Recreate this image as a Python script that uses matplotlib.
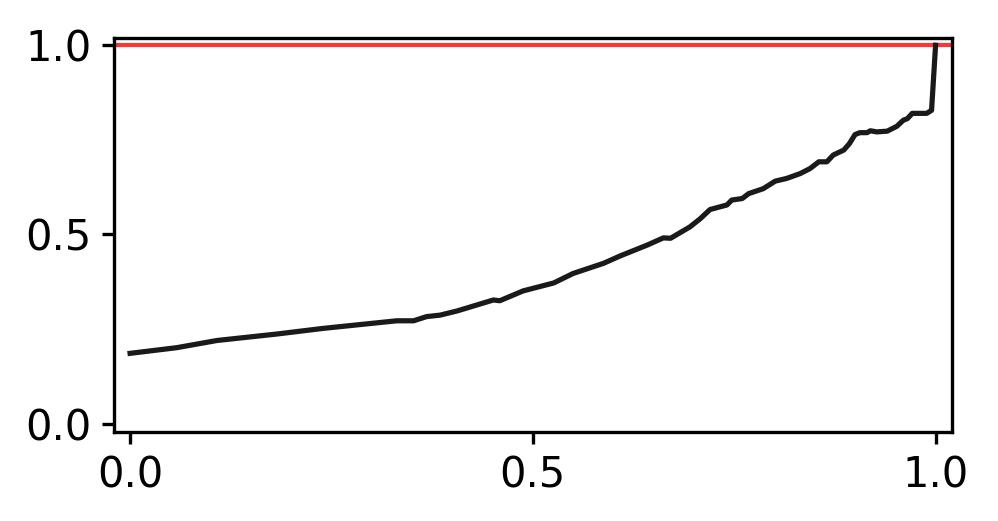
import numpy as np
import matplotlib
matplotlib.use('Agg')
import matplotlib.pyplot as plt

# curve
x_vals = [0.0, 0.058, 0.108, 0.182, 0.240, 0.290, 0.331, 0.352, 0.368, 0.385,
          0.406, 0.451, 0.459, 0.488, 0.526, 0.550, 0.588, 0.608, 0.642, 0.662,
          0.671, 0.695, 0.708, 0.720, 0.741, 0.747, 0.760, 0.768, 0.786, 0.801,
          0.815, 0.832, 0.844, 0.855, 0.865, 0.873, 0.886, 0.893, 0.900, 0.906,
          0.915, 0.919, 0.927, 0.940, 0.952, 0.960, 0.965, 0.971, 0.989, 0.995,
          1.0]
y_vals = [0.186, 0.201, 0.220, 0.237, 0.252, 0.263, 0.272, 0.272, 0.283, 0.287,
          0.298, 0.327, 0.325, 0.351, 0.372, 0.397, 0.424, 0.443, 0.472, 0.491,
          0.490, 0.520, 0.542, 0.566, 0.578, 0.591, 0.595, 0.608, 0.621, 0.641,
          0.648, 0.661, 0.674, 0.692, 0.692, 0.710, 0.723, 0.740, 0.764, 0.769,
          0.769, 0.774, 0.771, 0.773, 0.786, 0.802, 0.806, 0.820, 0.820, 0.828,
          1.0]
ref_level = 1.0

ticks = [0.0, 0.5, 1.0]

fig = plt.figure(figsize=(998 / 300, 521 / 300), dpi=300)
ax = fig.add_axes([0.1142, 0.1714, 0.9536 - 0.1142, 0.927 - 0.1714])

ax.axhline(ref_level, color='#ff2a2a', lw=1.0, alpha=0.95)
ax.plot(x_vals, y_vals, color='#1a1a1a', lw=1.25)

ax.set_xlim(-0.02, 1.02)
ax.set_ylim(-0.021, 1.019)
ax.set_xticks(ticks)
ax.set_yticks(ticks)
ax.tick_params(labelsize=10, length=2.8, width=0.8, pad=2.6)
for s in ax.spines.values():
    s.set_linewidth(0.8)

fig.savefig('out.png', dpi=300)
